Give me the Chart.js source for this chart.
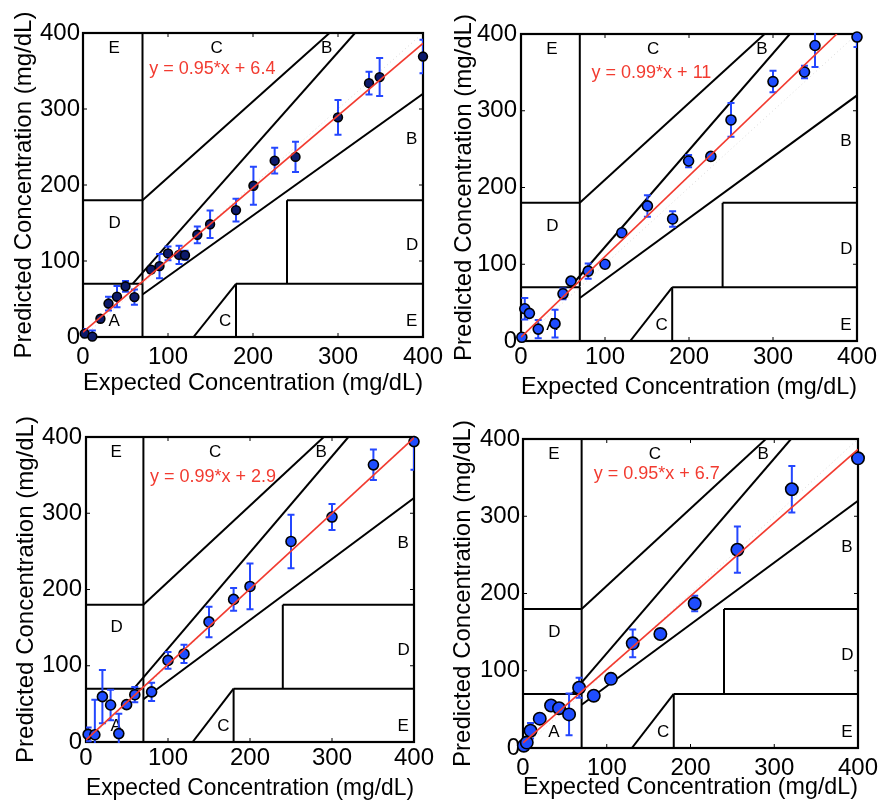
<!DOCTYPE html>
<html>
<head>
<meta charset="utf-8">
<script src="https://cdn.jsdelivr.net/npm/chart.js@4.4.1/dist/chart.umd.min.js"></script>
<style>
html, body { margin: 0; padding: 0; background: #fff; }
#wrap { position: relative; width: 880px; height: 803px; overflow: hidden; background: #fff; }
canvas { position: absolute; }
</style>
</head>
<body>
<div id="wrap">
  <canvas id="c1" width="445" height="400" style="left:0px;top:0px"></canvas>
  <canvas id="c2" width="440" height="400" style="left:440px;top:0px"></canvas>
  <canvas id="c3" width="445" height="403" style="left:0px;top:400px"></canvas>
  <canvas id="c4" width="440" height="403" style="left:440px;top:400px"></canvas>
</div>
<script>
// Clarke error grid - 4 panels

// Zone boundaries [x1, y1, x2, y2]
const zoneSegments = [
    [0, 70, 70, 70],
    [175 / 3, 70, 320, 400],
    [70, 0, 70, 400],
    [0, 180, 70, 180],
    [70, 180, 290, 400],
    [70, 56, 400, 320],
    [180, 0, 180, 70],
    [180, 70, 400, 70],
    [240, 70, 240, 180],
    [240, 180, 400, 180],
    [130, 0, 180, 70]
];
const diagLine = [0, 0, 400, 400];

const zoneLabels = ['A', 'D', 'E', 'C', 'C', 'E', 'D', 'B', 'B'];
const zoneLabelX = [30, 30, 30, 150, 160, 380, 380, 380, 280];
const zoneLabelY = [20, 150, 380, 380, 20, 20, 120, 260, 380];

const axisTicks = [0, 100, 200, 300, 400];

// Panel 1 (top left)
const p1X = [2, 11, 20.5, 30, 40, 50, 60.5, 80, 90, 100, 113, 120, 134.5, 149.5, 180, 200.5, 225.5, 250, 300, 336.5, 349, 400];
const p1Y = [4.5, 0.5, 24, 44, 53, 66.7, 52.5, 88.7, 93.3, 110, 108, 107.6, 134.5, 148.3, 167, 199, 232, 237, 289, 334, 342, 369];
const p1Err = [6, 8, 4, 9, 14, 7, 10, 4, 16, 9, 12, 6, 11, 18, 15, 25, 17, 20, 23, 15, 25, 22];
const p1FitX = [0, 400];
const p1FitY = [6.4, 386.4];
const p1Eq = 'y = 0.95*x + 6.4';

// Panel 2 (top right)
const p2X = [1, 4.5, 10, 20.5, 40.5, 50, 59.5, 80, 100, 120, 150.5, 180.5, 199.5, 226, 250, 300, 337.5, 350, 400];
const p2Y = [4.8, 42, 36, 15.5, 22.6, 61.5, 78, 91, 100, 141, 176, 159, 234.5, 240.5, 288, 338, 350.5, 385, 396];
const p2Err = [0, 14, 0, 12, 18, 7, 0, 10, 0, 0, 14, 10, 8, 0, 22, 14, 8, 28, 13];
const p2FitX = [0, 376];
const p2FitY = [5, 400];
const p2Eq = 'y = 0.99*x + 11';

// Panel 3 (bottom left)
const p3X = [2.6, 10.8, 20, 30, 40, 49.5, 59.5, 80, 100, 119.5, 150, 180, 200, 250, 300, 350.5, 400];
const p3Y = [10, 9.5, 59.5, 48.5, 11, 49, 62, 65.7, 107, 115.5, 157.5, 187, 204, 263, 295, 363.5, 394];
const p3Err = [9, 46, 35, 20, 26, 0, 10, 12, 11, 12, 20, 15, 30, 35, 17, 20, 37];
const p3FitX = [0, 400];
const p3FitY = [2.9, 398.9];
const p3Eq = 'y = 0.99*x + 2.9';

// Panel 4 (bottom right)
const p4X = [1, 4.5, 9, 20, 33.5, 43, 55, 67, 84.5, 105, 131, 164, 205, 256, 321, 400];
const p4Y = [3, 7, 22.4, 38, 55, 51.5, 43.5, 78, 67.7, 89.5, 135.5, 147.5, 187, 256.7, 335, 375];
const p4Err = [0, 4, 10, 0, 5, 6, 27, 13, 0, 0, 18, 0, 10, 30, 30, 0];
const p4FitX = [0, 400];
const p4FitY = [6.7, 386.7];
const p4Eq = 'y = 0.95*x + 6.7';

const FONT = "'Liberation Sans', Arial, Helvetica, sans-serif";
Chart.defaults.font.family = FONT;
Chart.defaults.color = '#000';

const ERR_COLOR = '#2447ff';
const FIT_COLOR = '#f23b30';

function toPoints(xs, ys) {
    return xs.map((x, i) => ({ x: x, y: ys[i] }));
}

// Plugin: error bars, box, inner ticks, zone labels, equation
function makeClarkePlugin(p) {
    return {
        id: 'clarke' + p.id,
        beforeDatasetsDraw(chart) {
            const { ctx, chartArea: a, scales: { x, y } } = chart;
            ctx.save();
            // zone letters
            ctx.fillStyle = '#000';
            ctx.font = '17px ' + FONT;
            ctx.textAlign = 'left';
            ctx.textBaseline = 'middle';
            zoneLabels.forEach((t, i) => {
                ctx.fillText(t, x.getPixelForValue(zoneLabelX[i]), y.getPixelForValue(zoneLabelY[i]));
            });
            // equation
            ctx.fillStyle = FIT_COLOR;
            ctx.font = '18px ' + FONT;
            ctx.fillText(p.eq, x.getPixelForValue(p.eqX), y.getPixelForValue(p.eqY));
            // box
            ctx.strokeStyle = '#000';
            ctx.lineWidth = 2.2;
            ctx.strokeRect(a.left, a.top, a.right - a.left, a.bottom - a.top);
            // inward ticks
            ctx.lineWidth = 1;
            axisTicks.slice(1, -1).forEach(v => {
                const px = x.getPixelForValue(v), py = y.getPixelForValue(v);
                ctx.beginPath();
                ctx.moveTo(px, a.bottom); ctx.lineTo(px, a.bottom - 4);
                ctx.moveTo(px, a.top); ctx.lineTo(px, a.top + 4);
                ctx.moveTo(a.left, py); ctx.lineTo(a.left + 4, py);
                ctx.moveTo(a.right, py); ctx.lineTo(a.right - 4, py);
                ctx.stroke();
            });
            ctx.restore();
        },
        beforeDatasetDraw(chart, args) {
            if (args.index !== zoneSegments.length + 1) return;
            const { ctx, chartArea: a, scales: { x, y } } = chart;
            ctx.save();
            ctx.beginPath();
            ctx.rect(a.left, a.top - 1, a.right - a.left, a.bottom - a.top + 2);
            ctx.clip();
            ctx.strokeStyle = ERR_COLOR;
            ctx.lineWidth = 2;
            const cap = 3.5;
            p.xs.forEach((xv, i) => {
                const e = p.errs[i];
                if (!e) return;
                const px = x.getPixelForValue(xv);
                const top = y.getPixelForValue(p.ys[i] + e);
                const bot = y.getPixelForValue(p.ys[i] - e);
                ctx.beginPath();
                ctx.moveTo(px, top); ctx.lineTo(px, bot);
                ctx.moveTo(px - cap, top); ctx.lineTo(px + cap, top);
                ctx.moveTo(px - cap, bot); ctx.lineTo(px + cap, bot);
                ctx.stroke();
            });
            ctx.restore();
        }
    };
}

function makePanel(p) {
    const datasets = zoneSegments.map(s => ({
        data: [{ x: s[0], y: s[1] }, { x: s[2], y: s[3] }],
        showLine: true,
        borderColor: '#000',
        borderWidth: 2,
        pointRadius: 0,
        order: 5
    }));
    datasets.push({
        data: [{ x: diagLine[0], y: diagLine[1] }, { x: diagLine[2], y: diagLine[3] }],
        showLine: true,
        borderColor: '#d8d8d8',
        borderWidth: 1,
        borderDash: [1, 3],
        pointRadius: 0,
        order: 4
    });
    datasets.push({
        data: toPoints(p.xs, p.ys),
        pointRadius: p.radius,
        pointBackgroundColor: p.fill,
        pointBorderColor: '#000',
        pointBorderWidth: 1.6,
        clip: false,
        order: 2
    });
    datasets.push({
        data: toPoints(p.fitX, p.fitY),
        showLine: true,
        borderColor: FIT_COLOR,
        borderWidth: 1.7,
        pointRadius: 0,
        order: 1
    });

    const tickFont = { size: 24, lineHeight: 1 };
    const titleFont = { size: 24, lineHeight: 1.2 };

    new Chart(document.getElementById(p.id), {
        type: 'scatter',
        data: { datasets: datasets },
        options: {
            responsive: false,
            animation: false,
            events: [],
            layout: { padding: { left: 0, top: p.top, right: p.right, bottom: 0 } },
            plugins: { legend: { display: false }, tooltip: { enabled: false } },
            scales: {
                x: {
                    type: 'linear', min: 0, max: 400,
                    afterBuildTicks: s => { s.ticks = axisTicks.map(v => ({ value: v })); },
                    afterFit: s => { s.height = p.xh; s.paddingLeft = 0; s.paddingRight = 0; },
                    ticks: { font: tickFont, color: '#000', padding: p.xPad, maxRotation: 0, autoSkip: false },
                    grid: { display: false, drawTicks: false },
                    border: { display: false },
                    title: { display: true, text: 'Expected Concentration (mg/dL)', font: titleFont, color: '#000', padding: { top: 0, bottom: p.xtPad } }
                },
                y: {
                    type: 'linear', min: 0, max: 400,
                    afterBuildTicks: s => { s.ticks = axisTicks.map(v => ({ value: v })); },
                    afterFit: s => { s.width = p.yw; s.paddingTop = 0; s.paddingBottom = 0; },
                    ticks: { font: tickFont, color: '#000', padding: p.yPad, autoSkip: false },
                    grid: { display: false, drawTicks: false },
                    border: { display: false },
                    title: { display: true, text: 'Predicted Concentration (mg/dL)', font: titleFont, color: '#000', padding: { top: p.ytPad, bottom: 0 } }
                }
            }
        },
        plugins: [makeClarkePlugin(p)]
    });
}

makePanel({ id: 'c1', xs: p1X, ys: p1Y, errs: p1Err, fitX: p1FitX, fitY: p1FitY, eq: p1Eq, eqX: 78, eqY: 353,
    fill: '#0d1b6b', radius: 4.4, top: 33, right: 22, yw: 83, xh: 63, xPad: 8, yPad: 3, xtPad: 2.5, ytPad: 9.6 });
makePanel({ id: 'c2', xs: p2X, ys: p2Y, errs: p2Err, fitX: p2FitX, fitY: p2FitY, eq: p2Eq, eqX: 84, eqY: 349,
    fill: '#1f4dff', radius: 5, top: 34, right: 23, yw: 81, xh: 59, xPad: 4, yPad: 4, xtPad: -2, ytPad: 9.6 });
makePanel({ id: 'c3', xs: p3X, ys: p3Y, errs: p3Err, fitX: p3FitX, fitY: p3FitY, eq: p3Eq, eqX: 78, eqY: 347,
    fill: '#1f4dff', radius: 5, top: 37, right: 31, yw: 86, xh: 61, xPad: 4.5, yPad: 4, xtPad: 0, ytPad: 12 });
makePanel({ id: 'c4', xs: p4X, ys: p4Y, errs: p4Err, fitX: p4FitX, fitY: p4FitY, eq: p4Eq, eqX: 84.5, eqY: 355,
    fill: '#1f4dff', radius: 6.2, top: 39, right: 22, yw: 83, xh: 55, xPad: 8, yPad: 3, xtPad: 1.3, ytPad: 8.6 });
</script>
</body>
</html>
